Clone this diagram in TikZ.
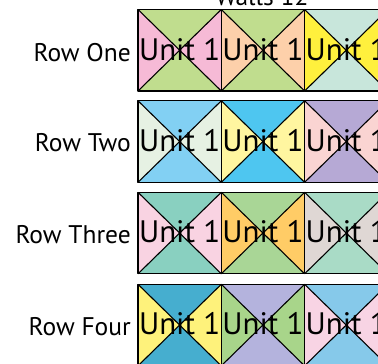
\documentclass[tikz,border=0pt]{standalone}
\usepackage{fontspec}
\setmainfont{PT Sans}
\definecolor{cGreenA}{HTML}{C0DD8E}
\definecolor{cPinkA}{HTML}{F6BAD6}
\definecolor{cPeach}{HTML}{FDD0AA}
\definecolor{cTealPale}{HTML}{C8E6DB}
\definecolor{cYellowA}{HTML}{FFF03D}
\definecolor{cBlueL}{HTML}{82D0F3}
\definecolor{cWhiteG}{HTML}{E6F1E3}
\definecolor{cBlueS}{HTML}{4EC6F0}
\definecolor{cYellowL}{HTML}{FFF6A0}
\definecolor{cLav}{HTML}{B6A9D5}
\definecolor{cPinkB}{HTML}{FAD4D2}
\definecolor{cTeal}{HTML}{89D0C0}
\definecolor{cPinkC}{HTML}{F9D3E2}
\definecolor{cGreenB}{HTML}{A9D696}
\definecolor{cOrange}{HTML}{FFCC66}
\definecolor{cMint}{HTML}{A9DBC6}
\definecolor{cGray}{HTML}{DFD7D4}
\definecolor{cTealBlue}{HTML}{46AECF}
\definecolor{cYellowB}{HTML}{FEF27B}
\definecolor{cLavB}{HTML}{B4B3DD}
\definecolor{cGreenC}{HTML}{A8D58A}
\definecolor{cBlueM}{HTML}{86C9EA}
\definecolor{cPinkD}{HTML}{F8D4E4}
\begin{document}
\begin{tikzpicture}[x=1pt,y=-1pt,
  unitlabel/.style={font=\fontsize{31}{31}\selectfont, inner sep=0pt},
  rowlabel/.style={font=\fontsize{25.5}{25.5}\selectfont, inner sep=0pt, anchor=base east},
  edge/.style={draw=black, line width=1.1pt, line join=round}]
\useasboundingbox (0,0) rectangle (378,364);
\clip (0,0) rectangle (378,364);
\def\bw{83.3}\def\bh{81.5}
% block macro: #1 x, #2 y, #3 top/bottom colour, #4 side colour, #5 name
\newcommand\hourglass[5]{%
  \coordinate (#5nw) at (#1,#2);
  \coordinate (#5ne) at ({#1+\bw},#2);
  \coordinate (#5sw) at (#1,{#2+\bh});
  \coordinate (#5se) at ({#1+\bw},{#2+\bh});
  \coordinate (#5c) at ({#1+\bw/2},{#2+\bh/2});
  \fill[#3] (#5nw) -- (#5ne) -- (#5c) -- cycle;
  \fill[#3] (#5sw) -- (#5se) -- (#5c) -- cycle;
  \fill[#4] (#5nw) -- (#5sw) -- (#5c) -- cycle;
  \fill[#4] (#5ne) -- (#5se) -- (#5c) -- cycle;
  \draw[edge] (#5nw) rectangle (#5se);
  \draw[edge] (#5nw) -- (#5se);
  \draw[edge] (#5ne) -- (#5sw);
  \node[unitlabel] (#5t) at ([yshift=1pt]#5c) {Unit 1};
}
% title
\node[font=\fontsize{25.5}{25.5}\selectfont, inner sep=0pt, anchor=base] (title) at (262,5.5) {Walls 12};
% row 1
\hourglass{138}{9.5}{cGreenA}{cPinkA}{ra}
\hourglass{221.3}{9.5}{cGreenA}{cPeach}{rb}
\hourglass{304.6}{9.5}{cTealPale}{cYellowA}{rc}
% row 2
\hourglass{138}{100.8}{cBlueL}{cWhiteG}{sa}
\hourglass{221.3}{100.8}{cBlueS}{cYellowL}{sb}
\hourglass{304.6}{100.8}{cLav}{cPinkB}{sc}
% row 3
\hourglass{138}{192.3}{cTeal}{cPinkC}{ta}
\hourglass{221.3}{192.3}{cGreenB}{cOrange}{tb}
\hourglass{304.6}{192.3}{cMint}{cGray}{tc}
% row 4
\hourglass{138}{284.3}{cTealBlue}{cYellowB}{ua}
\hourglass{221.3}{284.3}{cLavB}{cGreenC}{ub}
\hourglass{304.6}{284.3}{cBlueM}{cPinkD}{uc}
% row labels
\node[rowlabel] (l1) at (131,61.5) {Row One};
\node[rowlabel] (l2) at (131,151.5) {Row Two};
\node[rowlabel] (l3) at (131,243.3) {Row Three};
\node[rowlabel] (l4) at (131,335) {Row Four};
\end{tikzpicture}
\end{document}
